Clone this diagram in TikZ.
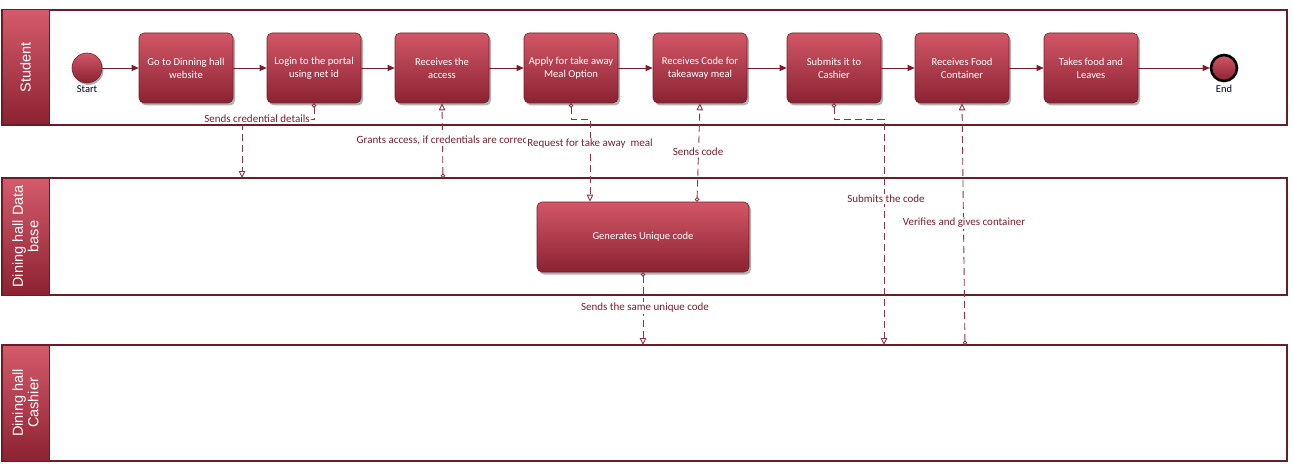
\documentclass[tikz,border=0pt]{standalone}
\usepackage{fontspec}
\setmainfont{Carlito}
\newfontfamily\lanefont{Liberation Sans}
\usetikzlibrary{arrows.meta,shadows,positioning}

\definecolor{laneline}{HTML}{6B1D27}
\definecolor{headlight}{HTML}{D45B6B}
\definecolor{headdark}{HTML}{8C2232}
\definecolor{boxtop}{HTML}{D25767}
\definecolor{boxbot}{HTML}{8A2232}
\definecolor{boxedge}{HTML}{7A1E2B}
\definecolor{flowcol}{HTML}{7B1E2A}
\definecolor{msgline}{HTML}{8E3444}
\definecolor{msgtext}{HTML}{7A1F2B}

\tikzset{
  lanebox/.style={draw=laneline, line width=1.2pt, fill=white, inner sep=0pt},
  lanehead/.style={rotate=90, draw=laneline, line width=1pt, minimum height=47pt,
    top color=headlight, bottom color=headdark, text=white, align=center,
    inner sep=0pt, font=\lanefont\fontsize{14.5}{15.5}\selectfont},
  task/.style={rounded corners=5pt, draw=boxedge, line width=0.6pt,
    top color=boxtop, bottom color=boxbot, text=white, align=center,
    minimum width=94pt, minimum height=70pt, inner sep=1pt,
    font=\fontsize{10.6}{13}\selectfont,
    drop shadow={shadow xshift=2pt, shadow yshift=-2.5pt, opacity=0.3, fill=black}},
  startev/.style={circle, draw=boxedge, line width=0.6pt, minimum size=30pt,
    top color=boxtop, bottom color=boxbot, inner sep=0pt,
    drop shadow={shadow xshift=1.5pt, shadow yshift=-2pt, opacity=0.3, fill=black}},
  endev/.style={circle, draw=black, line width=2.6pt, minimum size=26pt,
    top color=boxtop, bottom color=boxbot, inner sep=0pt},
  evlabel/.style={text=black!85!blue, font=\fontsize{10.5}{12}\selectfont, inner sep=0pt},
  flow/.style={draw=flowcol, line width=0.9pt, -{Triangle[length=7pt,width=6pt]}},
  msg/.style={draw=msgline, line width=0.9pt, dash pattern=on 7pt off 4pt,
    {Circle[open,length=4.5pt,width=4.5pt,line width=0.9pt]}-{Triangle[open,length=7pt,width=6.5pt,line width=0.9pt]}},
  msglabel/.style={fill=white, text=msgtext, inner sep=1pt,
    font=\fontsize{11}{13}\selectfont}
}

\begin{document}
\begin{tikzpicture}[x=1pt,y=-1pt]
\useasboundingbox (0,0) rectangle (1293,476);

% pools and lanes
\node[lanebox, minimum width=1285pt, minimum height=115pt] (laneS) at (644.5,67.5) {};
\node[lanebox, minimum width=1285pt, minimum height=117pt] (laneD) at (644.5,236.5) {};
\node[lanebox, minimum width=1285pt, minimum height=116pt] (laneC) at (644.5,403) {};
\node[lanehead, minimum width=115pt] (headS) at (25.5,67.5) {Student};
\node[lanehead, minimum width=117pt] (headD) at (25.5,236.5) {Dining hall Data\\base};
\node[lanehead, minimum width=116pt] (headC) at (25.5,403) {Dining hall\\Cashier};

% student tasks
\node[startev] (start) at (87,68) {};
\node[evlabel, below=2pt of start] (startlbl) {Start};
\node[task] (go) at (186,68) {Go to Dinning hall\\website};
\node[task, right=33.4pt of go] (login) {Login to the portal\\using net id};
\node[task, right=33.4pt of login] (access) {Receives the\\access};
\node[task, right=34.4pt of access] (apply) {Apply for take away\\Meal Option};
\node[task, right=34.4pt of apply] (code) {Receives Code for\\takeaway meal};
\node[task, right=39.4pt of code] (submit) {Submits it to\\Cashier};
\node[task, right=33.4pt of submit] (food) {Receives Food\\Container};
\node[task, right=34.4pt of food] (leave) {Takes food and\\Leaves};
\node[endev] (end) at (1224,68) {};
\node[evlabel, below=3pt of end] (endlbl) {End};

% database task
\node[task, minimum width=212pt] (gen) at (643,237) {Generates Unique code};

% sequence flow
\foreach \a/\b in {start/go, go/login, login/access, access/apply, apply/code,
                   code/submit, submit/food, food/leave, leave/end}
  \draw[flow] (\a) -- (\b);

% message flow
\coordinate (dbA) at (242,178);
\coordinate (dbB) at (443,178);
\coordinate (caA) at (643,345);
\coordinate (caB) at (884,345);
\coordinate (caC) at (965,345);

\draw[msg] (login.south) -- ++(0,16) -| (dbA);
\draw[msg] (dbB) -- (access.south);
\draw[msg] (apply.south) -- ++(0,16) -| ([xshift=-53pt]gen.north);
\draw[msg] ([xshift=54pt]gen.north) -- (code.south);
\draw[msg] (submit.south) -- ++(0,16) -| (caB);
\draw[msg] (caC) -- (food.south);
\draw[msg] (gen.south) -- (caA);

\node[msglabel] (l1) at (257,119) {Sends credential details};
\node[msglabel] (l2) at (442,140) {Grants access, if credentials are correc};
\node[msglabel] (l3) at (590,144) {Request for take away\ \ meal};
\node[msglabel] (l4) at (698,152) {Sends code};
\node[msglabel] (l5) at (886,199) {Submits the code};
\node[msglabel] (l6) at (964,223) {Verifies and gives container};
\node[msglabel] (l7) at (645,308) {Sends the same unique code};
\end{tikzpicture}
\end{document}
